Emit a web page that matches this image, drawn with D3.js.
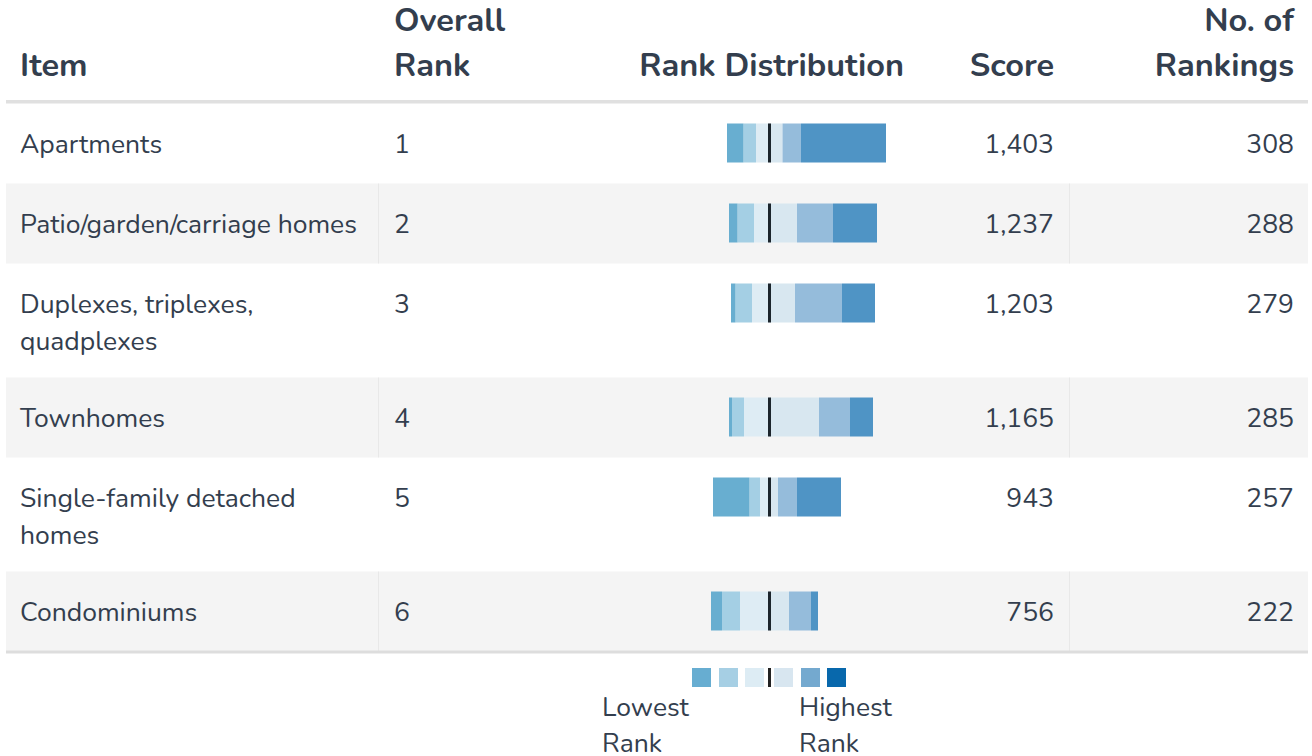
<!DOCTYPE html>
<html>
<head>
<meta charset="utf-8">
<script src="https://cdn.jsdelivr.net/npm/d3@7"></script>
<style>
  body { margin: 0; background: #fff; }
  text { font-family: Nunito, Lato, "Open Sans", sans-serif; fill: #333e4e; }
</style>
</head>
<body>
<div id="chart"></div>
<script>
// table content
var items = ["Apartments", "Patio/garden/carriage homes", "Duplexes, triplexes,\nquadplexes",
             "Townhomes", "Single-family detached\nhomes", "Condominiums"];
var overallRank = [1, 2, 3, 4, 5, 6];
var scores = [1403, 1237, 1203, 1165, 943, 756];
var numRankings = [308, 288, 279, 285, 257, 222];

// rank distribution, lowest rank -> highest rank (counts)
var rankDist = [
  [33, 25, 27, 26, 37, 170],
  [17, 33, 31, 55, 72, 88],
  [9, 33, 35, 51, 94, 66],
  [6, 24, 51, 99, 62, 46],
  [73, 21, 19, 17, 38, 88],
  [22, 36, 59, 39, 44, 14]
];

var barColors = ["#68aed0", "#a4cfe4", "#deecf4", "#d8e7f0", "#95bcdb", "#4f94c5"];
var legendColors = ["#67add1", "#a6cfe4", "#ddecf4", "#d8e6f0", "#74a9cf", "#0868ac"];

var width = 1312, height = 756;
var svg = d3.select("#chart").append("svg")
    .attr("width", width)
    .attr("height", height);

var x = d3.scaleLinear().domain([-279, 271]).range([630, 905]);

// header
var head = svg.append("g").attr("class", "header")
    .style("font-weight", "bold").style("font-size", "32.5px");
head.append("text").attr("x", 20).attr("y", 76).text("Item");
head.append("text").attr("x", 394).attr("y", 31).text("Overall");
head.append("text").attr("x", 394).attr("y", 76).text("Rank");
head.append("text").attr("x", 904).attr("y", 76).attr("text-anchor", "end").text("Rank Distribution");
head.append("text").attr("x", 1054).attr("y", 76).attr("text-anchor", "end").text("Score");
head.append("text").attr("x", 1294).attr("y", 31).attr("text-anchor", "end").text("No. of");
head.append("text").attr("x", 1294).attr("y", 76).attr("text-anchor", "end").text("Rankings");

svg.append("rect").attr("x", 6).attr("y", 100).attr("width", 1302).attr("height", 3.5).attr("fill", "#e0e0e0");

// row layout
var rows = [];
var rowTop = 103.5;
items.forEach(function(name, i) {
  var lines = name.split("\n");
  var h = 80 + (lines.length - 1) * 34;
  rows.push({name: name, lines: lines, y: rowTop, h: h, i: i});
  rowTop += h;
});

var row = svg.selectAll("g.row")
    .data(rows)
    .enter().append("g")
    .attr("class", "row")
    .attr("transform", function(d) { return "translate(0," + d.y + ")"; })
    .style("font-size", "26.5px");

row.filter(function(d) { return d.i % 2 == 1; })
  .each(function(d) {
    var g = d3.select(this);
    g.append("rect").attr("x", 6).attr("y", 0).attr("width", 1302).attr("height", d.h).attr("fill", "#f4f4f4");
    g.append("line").attr("x1", 378.5).attr("x2", 378.5).attr("y1", 0).attr("y2", d.h)
      .attr("stroke", "#e8e8e8").attr("stroke-width", 1);
    g.append("line").attr("x1", 1069.5).attr("x2", 1069.5).attr("y1", 0).attr("y2", d.h)
      .attr("stroke", "#e8e8e8").attr("stroke-width", 1);
  });

row.append("text")
    .attr("x", 20)
    .selectAll("tspan")
    .data(function(d) { return d.lines; })
    .enter().append("tspan")
    .attr("x", 20)
    .attr("y", function(d, j) { return 49 + j * 37; })
    .text(function(d) { return d; });

row.append("text").attr("x", 394).attr("y", 49)
    .text(function(d) { return overallRank[d.i]; });

row.append("text").attr("x", 1054).attr("y", 49).attr("text-anchor", "end")
    .text(function(d) { return d3.format(",")(scores[d.i]); });

row.append("text").attr("x", 1294).attr("y", 49).attr("text-anchor", "end")
    .text(function(d) { return numRankings[d.i]; });

// diverging stacked bars: ranks 1-3 go left of centre, 4-6 go right
row.each(function(d) {
  var c = rankDist[d.i];
  var segs = [];
  var left = 0;
  for (var k = 2; k >= 0; k--) {
    segs.push({x0: -(left + c[k]), x1: -left, k: k});
    left += c[k];
  }
  var right = 0;
  for (var k = 3; k < 6; k++) {
    segs.push({x0: right, x1: right + c[k], k: k});
    right += c[k];
  }
  var g = d3.select(this);
  g.selectAll("rect.seg")
    .data(segs)
    .enter().append("rect")
    .attr("class", "seg")
    .attr("x", function(s) { return x(s.x0); })
    .attr("width", function(s) { return x(s.x1) - x(s.x0); })
    .attr("y", 20)
    .attr("height", 39)
    .attr("fill", function(s) { return barColors[s.k]; });
  g.append("rect")
    .attr("x", x(0) - 1.5).attr("width", 3)
    .attr("y", 20).attr("height", 39)
    .attr("fill", "#1c252c");
});

svg.append("rect").attr("x", 6).attr("y", rowTop - 1).attr("width", 1302).attr("height", 3).attr("fill", "#dddddd");

// legend
var legend = svg.append("g").attr("class", "legend");
var legendX = [692, 719, 745, 774, 801, 827];
legend.selectAll("rect.key")
    .data(legendColors)
    .enter().append("rect")
    .attr("class", "key")
    .attr("x", function(d, i) { return legendX[i]; })
    .attr("y", 668)
    .attr("width", 19)
    .attr("height", 19)
    .attr("fill", function(d) { return d; });
legend.append("rect").attr("x", x(0) - 1.5).attr("y", 668).attr("width", 3).attr("height", 19).attr("fill", "#222");

var lg = legend.append("g").style("font-size", "26.5px");
lg.append("text").attr("x", 602).attr("y", 716).text("Lowest");
lg.append("text").attr("x", 602).attr("y", 752).text("Rank");
lg.append("text").attr("x", 799).attr("y", 716).text("Highest");
lg.append("text").attr("x", 799).attr("y", 752).text("Rank");
</script>
</body>
</html>
